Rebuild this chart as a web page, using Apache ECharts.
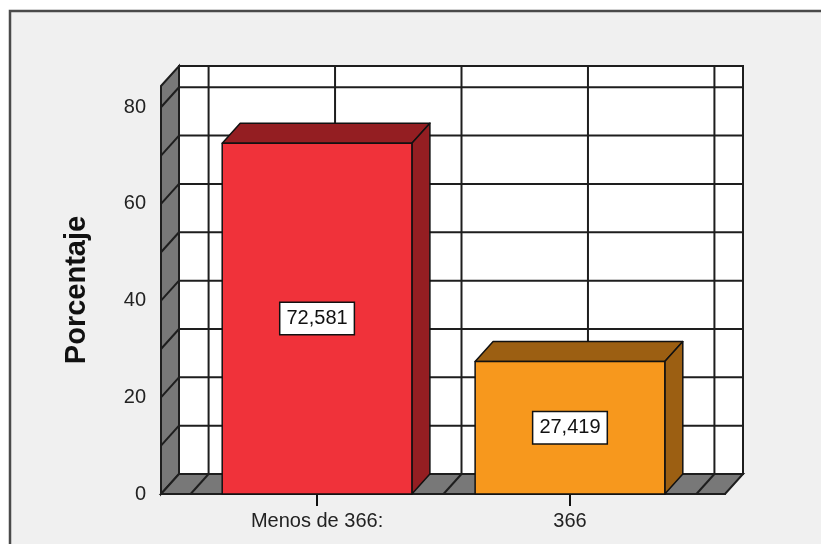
<!DOCTYPE html>
<html>
<head>
<meta charset="utf-8">
<script src="https://cdn.jsdelivr.net/npm/echarts@6/dist/echarts.min.js"></script>
<style>
html,body{margin:0;padding:0;background:#fff;overflow:hidden;}
#chart{width:821px;height:544px;}
</style>
</head>
<body>
<div id="chart"></div>
<script>
// ---- data ----
const categories = ['Menos de 366:', '366'];
const percentages = [72.581, 27.419];
const yTickValues = [0, 20, 40, 60, 80];
const xTickValues = [0, 1];

// ---- layout / style constants ----
const X_MIN = -0.617, X_MAX = 1.613, Y_MIN = 0, Y_MAX = 84.4;
const DX = 18, DY = -20;          // 3D depth offset (px)
const BAR_HALF = 0.375;           // half bar width in category units
const frontColors = ['#f0323a', '#f7981d'];
const darkColors = ['#941e22', '#9c5f12'];
const LINE = '#1e1e1e';
const FONT = '"Liberation Sans", Arial, sans-serif';

const chart = echarts.init(document.getElementById('chart'), null, {renderer: 'canvas'});

function off(pt) { return [pt[0] + DX, pt[1] + DY]; }

function frameRender(params, api) {
  const p = (x, y) => api.coord([x, y]);
  const bl = p(X_MIN, Y_MIN), tl = p(X_MIN, Y_MAX), br = p(X_MAX, Y_MIN);
  const ch = [];
  // back wall
  ch.push({type: 'rect', shape: {x: bl[0] + DX, y: tl[1] + DY, width: br[0] - bl[0], height: bl[1] - tl[1]},
           style: {fill: '#ffffff', stroke: null}});
  // back wall grid lines
  for (let v = 10; v < Y_MAX; v += 10) {
    const a = off(p(X_MIN, v)), b = off(p(X_MAX, v));
    ch.push({type: 'line', shape: {x1: a[0], y1: a[1], x2: b[0], y2: b[1]}, style: {stroke: LINE, lineWidth: 2}});
  }
  for (let x = -0.5; x <= 1.5001; x += 0.5) {
    const a = off(p(x, Y_MIN)), b = off(p(x, Y_MAX));
    ch.push({type: 'line', shape: {x1: a[0], y1: a[1], x2: b[0], y2: b[1]}, style: {stroke: LINE, lineWidth: 2}});
  }
  ch.push({type: 'rect', shape: {x: bl[0] + DX, y: tl[1] + DY, width: br[0] - bl[0], height: bl[1] - tl[1]},
           style: {fill: null, stroke: LINE, lineWidth: 2}});
  // left wall
  ch.push({type: 'polygon', shape: {points: [bl, tl, off(tl), off(bl)]},
           style: {fill: '#787878', stroke: LINE, lineWidth: 2}});
  for (let v = 10; v < Y_MAX; v += 10) {
    const a = p(X_MIN, v), b = off(a);
    ch.push({type: 'line', shape: {x1: a[0], y1: a[1], x2: b[0], y2: b[1]}, style: {stroke: LINE, lineWidth: 2}});
  }
  // floor
  ch.push({type: 'polygon', shape: {points: [bl, br, off(br), off(bl)]},
           style: {fill: '#787878', stroke: LINE, lineWidth: 2}});
  for (let x = -0.5; x <= 1.5001; x += 0.5) {
    const a = p(x, Y_MIN), b = off(a);
    ch.push({type: 'line', shape: {x1: a[0], y1: a[1], x2: b[0], y2: b[1]}, style: {stroke: LINE, lineWidth: 2}});
  }
  return {type: 'group', children: ch};
}

function barRender(params, api) {
  const i = api.value(0), v = api.value(1);
  const p = (x, y) => api.coord([x, y]);
  const fl = p(i - BAR_HALF, 0), fr = p(i + BAR_HALF, 0);
  const tl = p(i - BAR_HALF, v), tr = p(i + BAR_HALF, v);
  const c = p(i, v / 2);
  const idx = params.dataIndex;
  const stroke = {stroke: '#111', lineWidth: 1.5, lineJoin: 'round'};
  return {type: 'group', children: [
    {type: 'polygon', shape: {points: [tl, tr, off(tr), off(tl)]}, style: Object.assign({fill: darkColors[idx]}, stroke)},
    {type: 'polygon', shape: {points: [fr, tr, off(tr), off(fr)]}, style: Object.assign({fill: darkColors[idx]}, stroke)},
    {type: 'rect', shape: {x: tl[0], y: tl[1], width: fr[0] - fl[0], height: fl[1] - tl[1]},
     style: Object.assign({fill: frontColors[idx]}, stroke)},
    {type: 'text', x: c[0], y: c[1], z2: 10,
     style: {text: v.toFixed(3).replace('.', ','), fill: '#111', font: '20px ' + FONT,
             align: 'center', verticalAlign: 'middle', backgroundColor: '#ffffff',
             borderColor: '#111', borderWidth: 1.5, padding: [6, 6, 5, 6]}}
  ]};
}

const option = {
  animation: false,
  backgroundColor: '#ffffff',
  graphic: [{type: 'rect', z: -100, shape: {x: 10, y: 11, width: 900, height: 600},
             style: {fill: '#f0f0f0', stroke: '#4a4a4a', lineWidth: 2.5}}],
  grid: {left: 161, right: 96, top: 86, bottom: 50, containLabel: false},
  xAxis: {
    type: 'value', min: X_MIN, max: X_MAX,
    axisLine: {show: true, lineStyle: {color: '#111', width: 2}},
    axisTick: {show: true, length: 12, customValues: xTickValues, lineStyle: {color: '#111', width: 2}},
    axisLabel: {show: true, customValues: xTickValues, margin: 17, fontSize: 20, fontFamily: FONT, color: '#222',
                formatter: v => categories[Math.round(v)] ?? ''},
    splitLine: {show: false}
  },
  yAxis: {
    type: 'value', min: Y_MIN, max: Y_MAX,
    name: 'Porcentaje', nameLocation: 'middle', nameRotate: 90, nameGap: 70,
    nameTextStyle: {fontSize: 29, fontWeight: 'bold', fontFamily: FONT, color: '#111'},
    axisLine: {show: true, lineStyle: {color: '#111', width: 2}},
    axisTick: {show: true, length: 12, customValues: yTickValues, lineStyle: {color: '#111', width: 2}},
    axisLabel: {show: true, customValues: yTickValues, margin: 15, fontSize: 20, fontFamily: FONT, color: '#222'},
    splitLine: {show: false}
  },
  series: [
    {type: 'custom', z: 1, clip: false, renderItem: frameRender, data: [[0, 0]], encode: {x: 0, y: 1}, silent: true},
    {type: 'custom', z: 2, clip: false, renderItem: barRender,
     data: percentages.map((v, i) => [xTickValues[i], v]), encode: {x: 0, y: 1}}
  ]
};
chart.setOption(option);
</script>
</body>
</html>
